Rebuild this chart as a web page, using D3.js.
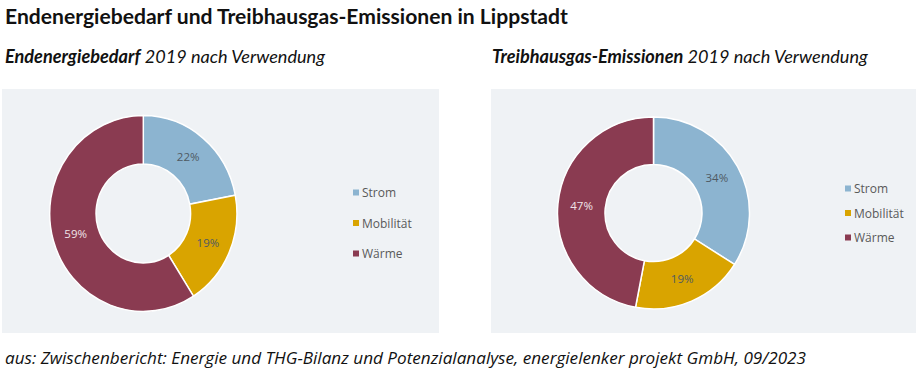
<!DOCTYPE html>
<html>
<head>
<meta charset="utf-8">
<script src="https://cdn.jsdelivr.net/npm/d3@7"></script>
<style>
    body { margin: 0; background: #fff; }
    svg { display: block; }
</style>
</head>
<body>
<div id="container"></div>
<script>
    // data
    const categories = ["Strom", "Mobilität", "Wärme"];
    const energyShares = [22, 19, 59];   // Endenergiebedarf 2019
    const ghgShares = [34, 19, 47];      // Treibhausgas-Emissionen 2019
    const title = "Endenergiebedarf und Treibhausgas-Emissionen in Lippstadt";
    const source = "aus: Zwischenbericht: Energie und THG-Bilanz und Potenzialanalyse, energielenker projekt GmbH, 09/2023";

    const width = 919, height = 376;
    const colors = d3.scaleOrdinal()
        .domain(categories)
        .range(["#8cb4d0", "#d9a400", "#8a3b51"]);
    const labelColor = d => d === "Wärme" ? "#f0e4e8" : "#4f5a63";

    const svg = d3.select("#container").append("svg")
        .attr("width", width)
        .attr("height", height);

    // fits a text element to a target width by scaling its font size
    function fitWidth(sel, target) {
        const fs = parseFloat(sel.attr("font-size"));
        const w = sel.node().getComputedTextLength();
        sel.attr("font-size", fs * target / w);
    }

    const t = svg.append("text")
        .attr("x", 5).attr("y", 24)
        .attr("font-family", "Lato, sans-serif")
        .attr("font-weight", "bold")
        .attr("font-size", 18)
        .attr("fill", "#111")
        .text(title);
    fitWidth(t, 563);

    const panels = [
        { bold: "Endenergiebedarf", rest: " 2019 nach Verwendung", values: energyShares,
          tx: 5, tw: 320, box: [2, 89, 437, 244], cx: 143.3, cy: 213.5, sx: 0.975, sy: 1.02,
          legX: 353, legY: 193, legStep: 30.5 },
        { bold: "Treibhausgas-Emissionen", rest: " 2019 nach Verwendung", values: ghgShares,
          tx: 492, tw: 376, box: [491, 89, 425, 244], cx: 653.5, cy: 213, sx: 1, sy: 1,
          legX: 845, legY: 189, legStep: 24.5 }
    ];

    const outerR = 96, innerR = 48.5;
    const pie = d3.pie().sort(null).value(d => d.value);
    const arc = d3.arc().innerRadius(innerR).outerRadius(outerR);

    panels.forEach(p => {
        const sub = svg.append("text")
            .attr("x", p.tx).attr("y", 63)
            .attr("font-family", "Lato, sans-serif")
            .attr("font-style", "italic")
            .attr("font-size", 15)
            .attr("fill", "#111");
        sub.append("tspan").attr("font-weight", "bold").text(p.bold);
        sub.append("tspan").text(p.rest);
        fitWidth(sub, p.tw);

        svg.append("rect")
            .attr("x", p.box[0]).attr("y", p.box[1])
            .attr("width", p.box[2]).attr("height", p.box[3])
            .attr("fill", "#eff2f5");

        const data = categories.map((c, i) => ({ name: c, value: p.values[i] }));
        const arcs = pie(data);
        const g = svg.append("g").attr("transform", `translate(${p.cx},${p.cy})`);

        g.append("g")
            .attr("transform", `scale(${p.sx},${p.sy})`)
            .selectAll("path")
            .data(arcs)
            .join("path")
            .attr("d", arc)
            .attr("fill", d => colors(d.data.name))
            .attr("stroke", "#fff")
            .attr("stroke-width", 1.5);

        g.selectAll("text")
            .data(arcs)
            .join("text")
            .attr("transform", d => {
                const [x, y] = arc.centroid(d);
                return `translate(${x * p.sx},${y * p.sy})`;
            })
            .attr("text-anchor", "middle")
            .attr("dy", "0.35em")
            .attr("font-family", "Open Sans, sans-serif")
            .attr("font-size", 11.5)
            .attr("fill", d => labelColor(d.data.name))
            .text(d => d.data.value + "%");

        const leg = svg.append("g")
            .selectAll("g")
            .data(categories)
            .join("g")
            .attr("transform", (d, i) => `translate(${p.legX},${p.legY + i * p.legStep})`);
        leg.append("rect")
            .attr("x", 0).attr("y", -3.5)
            .attr("width", 6).attr("height", 6)
            .attr("fill", d => colors(d));
        leg.append("text")
            .attr("x", 9).attr("dy", "0.35em")
            .attr("font-family", "Open Sans, sans-serif")
            .attr("font-size", 12)
            .attr("fill", "#595959")
            .text(d => d);
    });

    const s = svg.append("text")
        .attr("x", 5).attr("y", 364)
        .attr("font-family", "Open Sans, sans-serif")
        .attr("font-style", "italic")
        .attr("font-size", 15)
        .attr("fill", "#111")
        .text(source);
    fitWidth(s, 802);
</script>
</body>
</html>
